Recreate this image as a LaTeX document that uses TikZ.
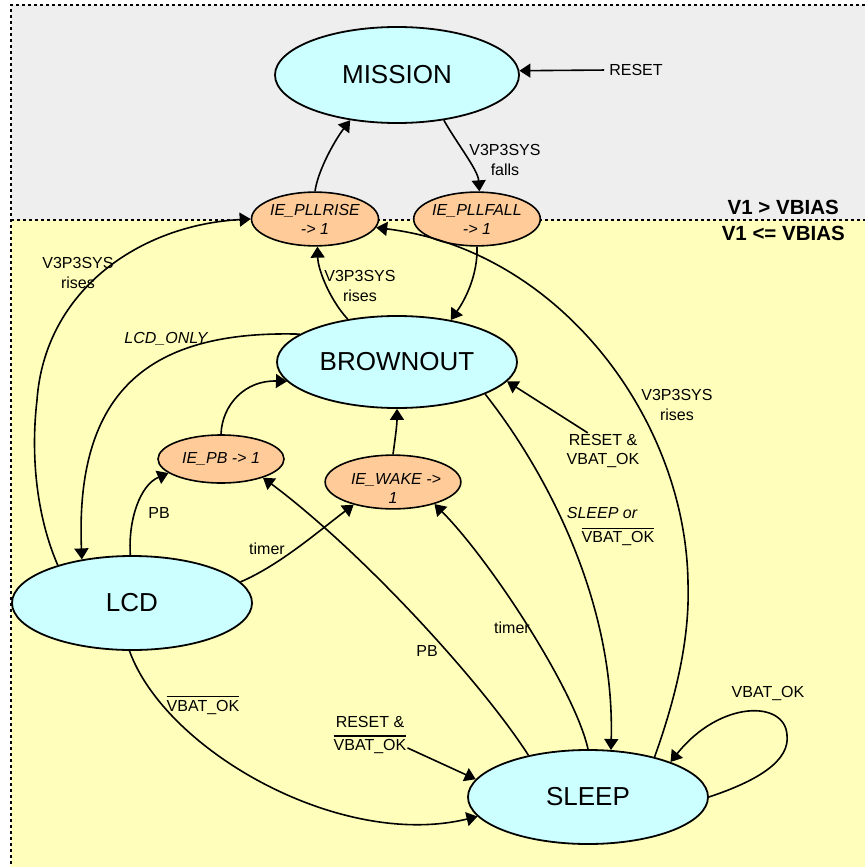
\documentclass[tikz,border=0pt]{standalone}
\usepackage{fontspec}
\setmainfont{Liberation Sans}
\usetikzlibrary{arrows.meta,shapes.geometric}
\definecolor{bgyellow}{HTML}{FFFFBB}
\definecolor{bggrey}{HTML}{EEEEEE}
\definecolor{statecyan}{HTML}{CCFFFF}
\definecolor{eventorange}{HTML}{FFCC99}
\newcommand\ovl[1]{\leavevmode\vbox{\hrule height 1.3pt\kern 2.4pt\hbox{#1}}}
\tikzset{
  statenode/.style={ellipse, draw, line width=1.8pt, fill=statecyan, inner sep=0pt,
    font=\fontsize{26}{30}\selectfont},
  eventnode/.style={ellipse, draw, line width=1.6pt, fill=eventorange, inner sep=0pt,
    minimum width=126pt, minimum height=48pt, align=center,
    font=\fontsize{16}{19}\selectfont\itshape},
  lbl/.style={align=center, inner sep=1pt, font=\fontsize{16}{19.5}\selectfont},
  regionlbl/.style={anchor=base east, inner sep=0pt, font=\fontsize{20.5}{24}\selectfont\bfseries},
  tr/.style={draw, line width=1.6pt, -{Triangle[length=11pt,width=14pt]}},
  border/.style={line width=1.6pt, dash pattern=on 3pt off 3pt}
}
\begin{document}
\begin{tikzpicture}[x=1pt,y=-1pt]
\useasboundingbox (0,0) rectangle (865,867);
% background
\fill[white] (0,0) rectangle (865,867);
\fill[bggrey] (11,5) rectangle (865,220);
\fill[bgyellow] (11,220) rectangle (865,867);
\draw[border] (865,5) -- (11,5) -- (11,867);
\draw[border] (11,220) -- (865,220);
\node[regionlbl] (above) at (839,214) {V1 > VBIAS};
\node[regionlbl] (below) at (845,240) {V1 <= VBIAS};

% states
\node[statenode, minimum width=244pt, minimum height=96pt] (mission) at (397,75) {MISSION};
\node[statenode, minimum width=240pt, minimum height=92pt] (brownout) at (397,362) {BROWNOUT};
\node[statenode, minimum width=240pt, minimum height=94pt] (lcd) at (132,603) {LCD};
\node[statenode, minimum width=240pt, minimum height=94pt] (sleep) at (588,797) {SLEEP};

% events
\node[eventnode] (pllrise) at (315,219) {\raisebox{-2pt}[\height][\depth]{\begin{tabular}{@{}c@{}}IE\_PLLRISE\\-> 1\end{tabular}}};
\node[eventnode] (pllfall) at (477,219) {\raisebox{-2pt}[\height][\depth]{\begin{tabular}{@{}c@{}}IE\_PLLFALL\\-> 1\end{tabular}}};
\node[eventnode] (iepb) at (221,459) {IE\_PB -> 1};
\node[eventnode] (iewake) at (393,482) {\raisebox{-8pt}[\height][\depth]{\begin{tabular}{@{}c@{}}\hspace*{6pt}IE\_WAKE ->\\1\end{tabular}}};

% labels
\node[lbl] (reset) at (636,70) {RESET};
\node[lbl] (lfalls) at (505,160) {V3P3SYS\\falls};
\node[lbl] (lrise1) at (78,273) {V3P3SYS\\rises};
\node[lbl] (lrise2) at (360,286) {V3P3SYS\\rises};
\node[lbl] (lrise3) at (677,405) {V3P3SYS\\rises};
\node[lbl, font=\fontsize{16}{19.5}\selectfont\itshape] (llcdonly) at (166,339) {LCD\_ONLY};
\node[lbl] (lpb1) at (159,513) {PB};
\node[lbl] (ltimer1) at (267,549) {timer};
\node[lbl] (lpb2) at (427,651) {PB};
\node[lbl] (ltimer2) at (512,628) {timer};
\node[lbl, font=\fontsize{16}{19.5}\selectfont\itshape, anchor=base] (lsleepor) at (602,518.5) {SLEEP or};
\node[lbl, anchor=base] (lnvbat2) at (618,542.5) {\ovl{VBAT\_OK}};
\node[lbl, anchor=base] (lnvbat1) at (203,711) {\ovl{VBAT\_OK}};
\node[lbl] (rvb) at (603,451) {RESET \&\\VBAT\_OK};
\node[lbl] (rvs) at (370,735) {RESET \&\\[3pt]\ovl{VBAT\_OK}};
\node[lbl] (lloop) at (768,693) {VBAT\_OK};

% transitions
\draw[tr, shorten <=4pt] (reset.west) -- (mission.2);
\draw[tr] (pllrise.north) .. controls (318,170) and (335,140) .. (mission.-136);
\draw[tr] (mission.-44) .. controls (458,145) and (478,170) .. (pllfall.85);
\draw[tr] (pllfall.south) .. controls (478,275) and (465,300) .. (brownout.38);
\draw[tr] (brownout.139) .. controls (330,300) and (318,270) .. (pllrise.-85);
\draw[tr] (lcd.153) .. controls (38,520) and (30,460) .. (37,400)
                    .. controls (45,290) and (140,225) .. (pllrise.west);
\draw[tr] (brownout.164) .. controls (150,330) and (75,390) .. (lcd.139);
\draw[tr] (iepb.north) .. controls (222,405) and (245,380) .. (brownout.-170);
\draw[tr] (iewake.north) .. controls (395,440) and (397,425) .. (brownout.south);
\draw[tr] (lcd.11) .. controls (280,565) and (320,530) .. (iewake.-150);
\draw[tr] (lcd.92) .. controls (128,520) and (140,485) .. (iepb.-165);
\draw[tr] (sleep.145) .. controls (480,680) and (360,550) .. (iepb.-24);
\draw[tr] (sleep.north) .. controls (575,690) and (490,560) .. (iewake.-28);
\draw[tr] (brownout.-20) .. controls (545,470) and (615,600) .. (sleep.64);
\draw[tr] (sleep.31) .. controls (675,700) and (690,640) .. (688,583)
                     .. controls (686,420) and (560,250) .. (pllrise.-8);
\draw[tr] (sleep.east) .. controls (760,780) and (790,760) .. (787,735)
                       .. controls (785,700) and (720,700) .. (sleep.23);
\draw[tr] (rvb.130) -- (brownout.-10);
\draw[tr] (rvs.-19) -- (sleep.171);
\draw[tr] (lcd.-93) .. controls (165,750) and (340,850) .. (sleep.-170);
\end{tikzpicture}
\end{document}
